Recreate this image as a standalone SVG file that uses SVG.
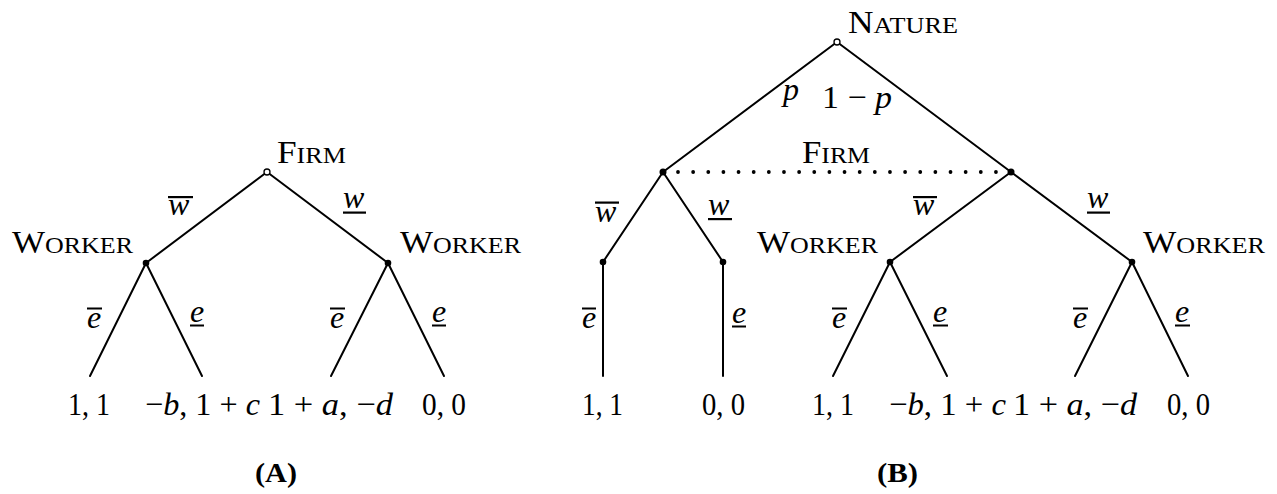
<svg xmlns="http://www.w3.org/2000/svg" width="1277" height="494" viewBox="0 0 1277 494">
<style>
.e{stroke:#000;stroke-width:2;fill:none;stroke-linecap:round}
.open{fill:#fff;stroke:#000;stroke-width:1.3}
.dot{fill:#000}
.lbl{font-family:"Liberation Serif","Times New Roman",serif;font-size:31px;fill:#000}
.sc{font-size:23px}
.m{font-family:"Liberation Serif","Times New Roman",serif;font-size:32px;fill:#000}
.i{font-style:italic}
.bar{fill:#000}
.cap{font-family:"Liberation Serif","Times New Roman",serif;font-size:28px;font-weight:bold;fill:#000}
</style>
<rect width="1277" height="494" fill="#fff"/>
<g id="connectors">
  <!-- Panel A -->
  <line class="e" x1="267" y1="172" x2="146" y2="263"/>
  <line class="e" x1="267" y1="172" x2="388" y2="263"/>
  <line class="e" x1="146" y1="263" x2="90" y2="376"/>
  <line class="e" x1="146" y1="263" x2="202" y2="376"/>
  <line class="e" x1="388" y1="263" x2="331" y2="376"/>
  <line class="e" x1="388" y1="263" x2="444" y2="376"/>
  <!-- Panel B -->
  <line class="e" x1="837" y1="42" x2="663" y2="172"/>
  <line class="e" x1="837" y1="42" x2="1011" y2="172"/>
  <line class="e" x1="663" y1="172" x2="603" y2="262"/>
  <line class="e" x1="663" y1="172" x2="723" y2="262"/>
  <line class="e" x1="603" y1="262" x2="603" y2="376"/>
  <line class="e" x1="723" y1="262" x2="723" y2="376"/>
  <line class="e" x1="1011" y1="172" x2="890" y2="262"/>
  <line class="e" x1="1011" y1="172" x2="1132" y2="262"/>
  <line class="e" x1="890" y1="262" x2="833" y2="376"/>
  <line class="e" x1="890" y1="262" x2="947" y2="376"/>
  <line class="e" x1="1132" y1="262" x2="1075" y2="376"/>
  <line class="e" x1="1132" y1="262" x2="1188" y2="376"/>
  <!-- information set -->
  <line x1="678" y1="172" x2="996" y2="172" stroke="#000" stroke-width="3.8" stroke-linecap="round" stroke-dasharray="0 15.14"/>
  <!-- edge labels panel A -->
  <g id="lbl-A-wbar"><text class="m i" x="168" y="215">w</text><rect class="bar" x="168" y="196" width="25" height="2.2"/></g>
  <g id="lbl-A-wund"><text class="m i" x="343" y="208">w</text><rect class="bar" x="343" y="211.5" width="23" height="2.2"/></g>
  <g id="lbl-A-ebar1"><text class="m i" x="87" y="328">e</text><rect class="bar" x="87" y="307.5" width="15" height="2"/></g>
  <g id="lbl-A-eund1"><text class="m i" x="190" y="322">e</text><rect class="bar" x="190" y="324.5" width="14" height="2"/></g>
  <g id="lbl-A-ebar2"><text class="m i" x="330" y="328">e</text><rect class="bar" x="330" y="307.5" width="15" height="2"/></g>
  <g id="lbl-A-eund2"><text class="m i" x="432" y="322">e</text><rect class="bar" x="432" y="324.5" width="14" height="2"/></g>
  <!-- edge labels panel B -->
  <text class="m i" x="783" y="100">p</text>
  <text class="m" x="822" y="108" textLength="70" lengthAdjust="spacingAndGlyphs">1 − <tspan class="i">p</tspan></text>
  <g id="lbl-B-wbar1"><text class="m i" x="595" y="222">w</text><rect class="bar" x="595" y="201.5" width="24" height="2.2"/></g>
  <g id="lbl-B-wund1"><text class="m i" x="708" y="215">w</text><rect class="bar" x="708" y="218" width="24" height="2.2"/></g>
  <g id="lbl-B-ebar1"><text class="m i" x="582" y="328">e</text><rect class="bar" x="582" y="307.5" width="14" height="2"/></g>
  <g id="lbl-B-eund1"><text class="m i" x="732" y="323">e</text><rect class="bar" x="732" y="325.5" width="14" height="2"/></g>
  <g id="lbl-B-wbar2"><text class="m i" x="913" y="215">w</text><rect class="bar" x="913" y="196" width="24" height="2.2"/></g>
  <g id="lbl-B-wund2"><text class="m i" x="1087" y="208">w</text><rect class="bar" x="1087" y="211.5" width="23" height="2.2"/></g>
  <g id="lbl-B-ebar2"><text class="m i" x="832" y="328">e</text><rect class="bar" x="832" y="307.5" width="15" height="2"/></g>
  <g id="lbl-B-eund2"><text class="m i" x="933" y="322">e</text><rect class="bar" x="933" y="324.5" width="15" height="2"/></g>
  <g id="lbl-B-ebar3"><text class="m i" x="1073" y="328">e</text><rect class="bar" x="1073" y="307.5" width="15" height="2"/></g>
  <g id="lbl-B-eund3"><text class="m i" x="1175" y="322">e</text><rect class="bar" x="1175" y="324.5" width="15" height="2"/></g>
</g>
<!-- Panel A nodes -->
<g id="A-firm"><circle class="open" cx="267" cy="172" r="3"/><text class="lbl" x="277" y="163" textLength="69" lengthAdjust="spacingAndGlyphs">F<tspan class="sc">IRM</tspan></text></g>
<g id="A-worker-left"><circle class="dot" cx="146" cy="263" r="3.3"/><text class="lbl" x="12" y="253" textLength="121" lengthAdjust="spacingAndGlyphs">W<tspan class="sc">ORKER</tspan></text></g>
<g id="A-worker-right"><circle class="dot" cx="388" cy="263" r="3.3"/><text class="lbl" x="400" y="253" textLength="121" lengthAdjust="spacingAndGlyphs">W<tspan class="sc">ORKER</tspan></text></g>
<g id="A-leaf1"><text class="m" x="68" y="415" textLength="42" lengthAdjust="spacingAndGlyphs">1, 1</text></g>
<g id="A-leaf2"><text class="m" x="145" y="415" textLength="115" lengthAdjust="spacingAndGlyphs">−<tspan class="i">b</tspan>, 1 + <tspan class="i">c</tspan></text></g>
<g id="A-leaf3"><text class="m" x="268" y="415" textLength="125" lengthAdjust="spacingAndGlyphs">1 + <tspan class="i">a</tspan>, −<tspan class="i">d</tspan></text></g>
<g id="A-leaf4"><text class="m" x="422" y="415" textLength="44" lengthAdjust="spacingAndGlyphs">0, 0</text></g>
<text class="cap" x="255" y="482" textLength="42" lengthAdjust="spacingAndGlyphs">(A)</text>
<!-- Panel B nodes -->
<g id="B-nature"><circle class="open" cx="837" cy="42" r="3"/><text class="lbl" x="848" y="33" textLength="110" lengthAdjust="spacingAndGlyphs">N<tspan class="sc">ATURE</tspan></text></g>
<g id="B-firm-left"><circle class="dot" cx="663" cy="172" r="3.5"/></g>
<g id="B-firm-right"><circle class="dot" cx="1011" cy="172" r="3.5"/></g>
<g id="B-firm-label"><text class="lbl" x="802" y="163" textLength="68" lengthAdjust="spacingAndGlyphs">F<tspan class="sc">IRM</tspan></text></g>
<g id="B-sub-left"><circle class="dot" cx="603" cy="262" r="3.3"/></g>
<g id="B-sub-right"><circle class="dot" cx="723" cy="262" r="3.3"/></g>
<g id="B-worker-left"><circle class="dot" cx="890" cy="262" r="3.3"/><text class="lbl" x="757" y="253" textLength="121" lengthAdjust="spacingAndGlyphs">W<tspan class="sc">ORKER</tspan></text></g>
<g id="B-worker-right"><circle class="dot" cx="1132" cy="262" r="3.3"/><text class="lbl" x="1143" y="253" textLength="122" lengthAdjust="spacingAndGlyphs">W<tspan class="sc">ORKER</tspan></text></g>
<g id="B-leaf1"><text class="m" x="582" y="415" textLength="41" lengthAdjust="spacingAndGlyphs">1, 1</text></g>
<g id="B-leaf2"><text class="m" x="702" y="415" textLength="43" lengthAdjust="spacingAndGlyphs">0, 0</text></g>
<g id="B-leaf3"><text class="m" x="812" y="415" textLength="42" lengthAdjust="spacingAndGlyphs">1, 1</text></g>
<g id="B-leaf4"><text class="m" x="889" y="415" textLength="117" lengthAdjust="spacingAndGlyphs">−<tspan class="i">b</tspan>, 1 + <tspan class="i">c</tspan></text></g>
<g id="B-leaf5"><text class="m" x="1013" y="415" textLength="124" lengthAdjust="spacingAndGlyphs">1 + <tspan class="i">a</tspan>, −<tspan class="i">d</tspan></text></g>
<g id="B-leaf6"><text class="m" x="1167" y="415" textLength="43" lengthAdjust="spacingAndGlyphs">0, 0</text></g>
<text class="cap" x="877" y="482" textLength="41" lengthAdjust="spacingAndGlyphs">(B)</text>
</svg>
